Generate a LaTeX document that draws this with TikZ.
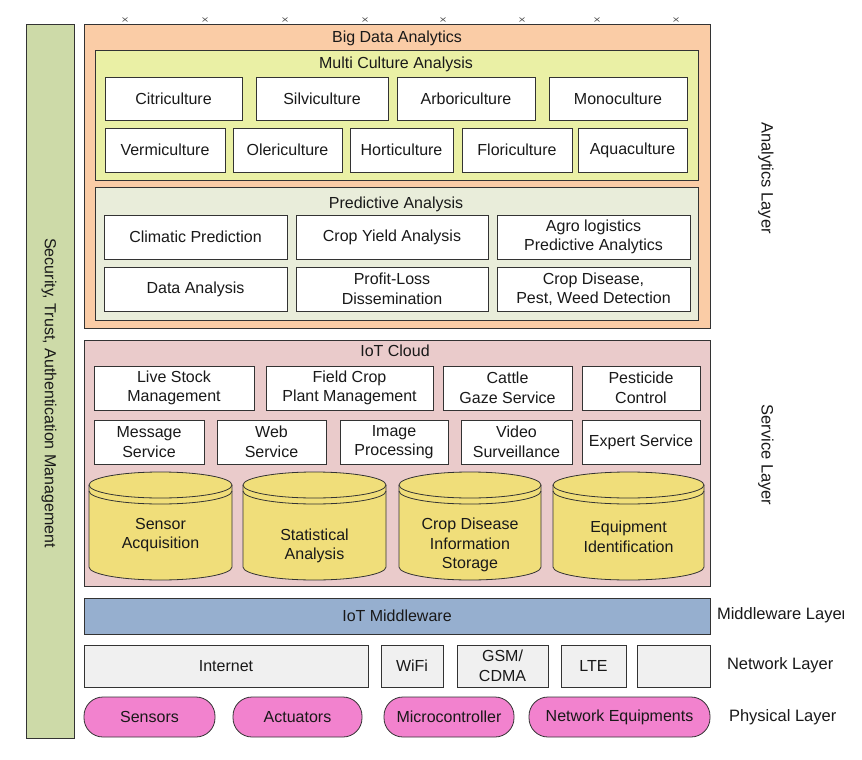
\documentclass[tikz,border=0pt]{standalone}
\usepackage{fontspec}
\setmainfont{Liberation Sans}
\definecolor{secg}{RGB}{205,218,168}
\definecolor{bdorange}{RGB}{250,204,166}
\definecolor{mcyel}{RGB}{234,240,165}
\definecolor{pagreen}{RGB}{233,237,218}
\definecolor{cloudpink}{RGB}{234,203,203}
\definecolor{cylyel}{RGB}{240,222,122}
\definecolor{midblue}{RGB}{150,175,207}
\definecolor{netgray}{RGB}{240,240,240}
\definecolor{phypink}{RGB}{242,130,206}
\definecolor{edgec}{RGB}{51,51,51}
\definecolor{txt}{RGB}{25,25,25}
\tikzset{
  base/.style={draw=edgec, line width=0.8pt, inner sep=0pt, outer sep=0pt, align=center, text=txt, font=\fontsize{16}{19.5}\selectfont},
  wbox/.style={base, fill=white},
  secbox/.style={base, fill=secg},
  bdbox/.style={base, fill=bdorange},
  mcbox/.style={base, fill=mcyel},
  pabox/.style={base, fill=pagreen},
  cloudbox/.style={base, fill=cloudpink},
  midbox/.style={base, fill=midblue},
  netbox/.style={base, fill=netgray},
  phybox/.style={base, fill=phypink, rounded corners=19pt},
  lbl/.style={inner sep=0pt, outer sep=0pt, align=center, text=txt, font=\fontsize{16}{19.5}\selectfont},
  sidelbl/.style={lbl, font=\fontsize{16.5}{19.5}\selectfont},
  cylstyle/.style={draw=edgec, line width=0.8pt, fill=cylyel},
  cylline/.style={draw=edgec, line width=0.8pt},
  xmark/.style={draw=black!60, line width=0.7pt},
}
% name, x1, y1, x2, y2, style, text
\newcommand\bx[7]{\node[#6, minimum width={(#4-#2)*1pt}, minimum height={(#5-#3)*1pt}] (#1) at ({(#2+#4)/2},{(#3+#5)/2}) {#7};}
% name, x1, x2, ytop, ybottom, ytext, text
\newcommand\cyl[7]{%
  \path[cylstyle] (#2,#4+13) -- (#2,#5-13) arc[start angle=180, end angle=0, x radius={(#3-#2)/2*1pt}, y radius=13pt] -- (#3,#4+13) arc[start angle=0, end angle=-180, x radius={(#3-#2)/2*1pt}, y radius=13pt] -- cycle;
  \draw[cylline] (#2,#4+13) arc[start angle=180, end angle=0, x radius={(#3-#2)/2*1pt}, y radius=13pt];
  \draw[cylline] (#2,#4+19) arc[start angle=180, end angle=0, x radius={(#3-#2)/2*1pt}, y radius=13pt];
  \node[lbl] (#1) at ({(#2+#3)/2},#6) {#7};}
\begin{document}
\begin{tikzpicture}[x=1pt, y=1pt, yscale=-1]
\useasboundingbox (0,0) rectangle (862,760);
% top markers
\foreach \mx in {125,205,285,365,443,522,597,676}
  \draw[xmark] (\mx-2.5,17.5) -- (\mx+2.5,21.5) (\mx-2.5,21.5) -- (\mx+2.5,17.5);
% security bar
\bx{secbar}{26}{24}{74}{738}{secbox}{}
\node[lbl, rotate=-90] (sectxt) at (49,393) {Security, Trust, Authentication Management};
% Big data analytics
\bx{bda}{84}{24}{710}{328}{bdbox}{}
\node[lbl] (bdat) at (397,38) {Big Data Analytics};
\bx{mca}{95}{50}{698}{180}{mcbox}{}
\node[lbl] (mcat) at (396,64) {Multi Culture Analysis};
\bx{citri}{105}{77}{242}{120}{wbox}{Citriculture}
\bx{silvi}{256}{77}{388}{120}{wbox}{Silviculture}
\bx{arbor}{397}{77}{535}{120}{wbox}{Arboriculture}
\bx{mono}{549}{77}{687}{120}{wbox}{Monoculture}
\bx{vermi}{105}{128}{225}{172}{wbox}{Vermiculture}
\bx{oleri}{233}{128}{342}{172}{wbox}{Olericulture}
\bx{horti}{350}{128}{453}{172}{wbox}{Horticulture}
\bx{flori}{462}{128}{572}{172}{wbox}{Floriculture}
\bx{aqua}{578}{128}{687}{172}{wbox}{Aquaculture}
\bx{pa}{95}{187}{698}{320}{pabox}{}
\node[lbl] (pat) at (396,204) {Predictive Analysis};
\bx{clim}{104}{215}{287}{259}{wbox}{Climatic Prediction}
\bx{cya}{296}{215}{488}{259}{wbox}{Crop Yield Analysis}
\bx{agro}{497}{215}{690}{259}{wbox}{Agro logistics\\Predictive Analytics}
\bx{data}{104}{267}{287}{311}{wbox}{Data Analysis}
\bx{profit}{296}{267}{488}{311}{wbox}{Profit-Loss\\Dissemination}
\bx{cdis}{497}{267}{690}{311}{wbox}{Crop Disease,\\Pest, Weed Detection}
% IoT cloud
\bx{cloud}{84}{340}{710}{586}{cloudbox}{}
\node[lbl] (cloudt) at (395,351) {IoT Cloud};
\bx{live}{94}{366}{254}{410}{wbox}{Live Stock\\Management}
\bx{field}{266}{366}{433}{410}{wbox}{Field Crop\\Plant Management}
\bx{cattle}{443}{366}{572}{410}{wbox}{Cattle\\Gaze Service}
\bx{pest}{582}{366}{700}{410}{wbox}{Pesticide\\Control}
\bx{msg}{94}{420}{204}{464}{wbox}{Message\\Service}
\bx{web}{217}{420}{326}{464}{wbox}{Web\\Service}
\bx{img}{340}{420}{448}{464}{wbox}{Image\\Processing}
\bx{video}{461}{420}{572}{464}{wbox}{Video\\Surveillance}
\bx{expert}{582}{420}{700}{464}{wbox}{Expert Service}
\cyl{sensacq}{89}{232}{472}{580}{535}{Sensor\\Acquisition}
\cyl{stat}{243}{386}{472}{580}{546}{Statistical\\Analysis}
\cyl{cropinfo}{399}{541}{472}{580}{545}{Crop Disease\\Information\\Storage}
\cyl{equip}{553}{704}{472}{580}{537}{Equipment\\Identification}
% middleware
\bx{mid}{84}{598}{710}{634}{midbox}{IoT Middleware}
% network
\bx{inet}{84}{645}{368}{687}{netbox}{Internet}
\bx{wifi}{381}{645}{443}{687}{netbox}{WiFi}
\bx{gsm}{457}{645}{548}{687}{netbox}{GSM/\\CDMA}
\bx{lte}{561}{645}{626}{687}{netbox}{LTE}
\bx{netx}{637}{645}{710}{687}{netbox}{}
% physical
\bx{sens}{84}{697}{215}{737}{phybox}{Sensors}
\bx{act}{233}{697}{362}{737}{phybox}{Actuators}
\bx{micro}{384}{697}{514}{737}{phybox}{Microcontroller}
\bx{neteq}{529}{697}{710}{737}{phybox}{Network Equipments}
% layer labels
\node[sidelbl, rotate=-90] (anal) at (766,178) {Analytics Layer};
\node[sidelbl, rotate=-90] (serv) at (766,455) {Service Layer};
\begin{scope}
  \clip (712,595) rectangle (843,635);
  \node[sidelbl, anchor=west] (midl) at (717,615) {Middleware Layer};
\end{scope}
\node[sidelbl, anchor=west] (netl) at (727,665) {Network Layer};
\node[sidelbl, anchor=west] (phyl) at (729,717) {Physical Layer};
\end{tikzpicture}
\end{document}
